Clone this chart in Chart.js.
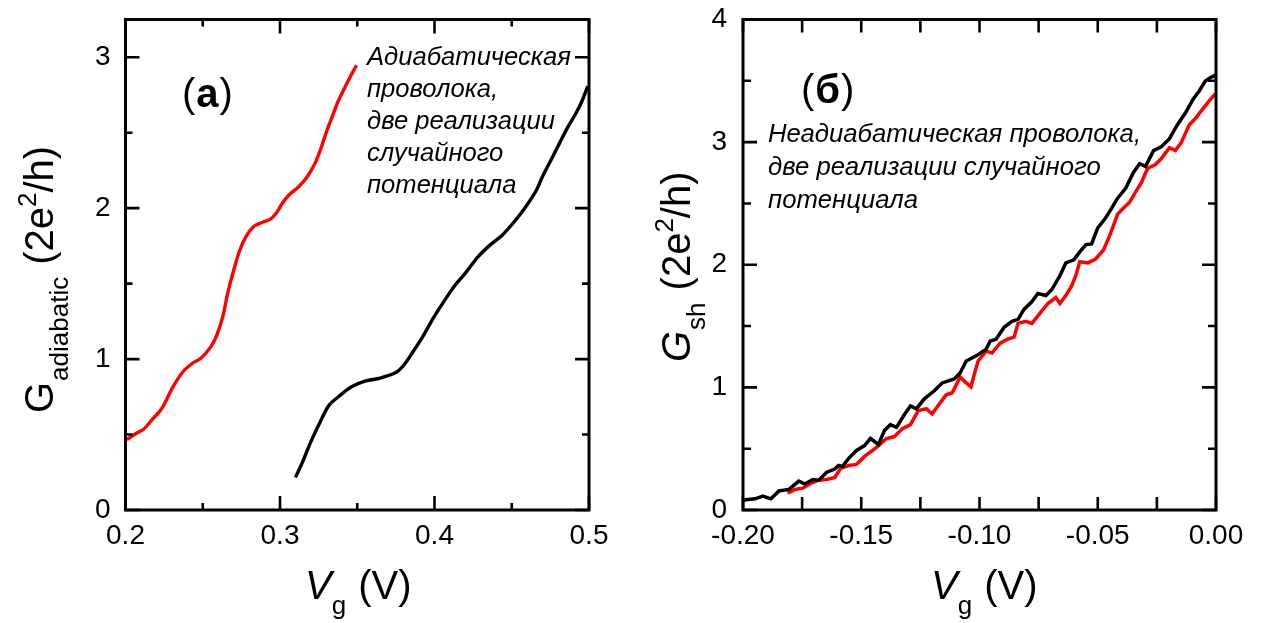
<!DOCTYPE html>
<html>
<head>
<meta charset="utf-8">
<script src="https://cdn.jsdelivr.net/npm/chart.js@4/dist/chart.umd.min.js"></script>
<style>
  html, body { margin: 0; padding: 0; background: #fff; }
  #wrap { position: relative; width: 1264px; height: 623px; overflow: hidden; }
  canvas { position: absolute; top: 0; }
  #panelA { left: 0; }
  #panelB { left: 632px; }
</style>
</head>
<body>
<div id="wrap">
  <canvas id="panelA" width="632" height="623" style="width:632px;height:623px"></canvas>
  <canvas id="panelB" width="632" height="623" style="width:632px;height:623px"></canvas>
</div>
<script>
// ---- Panel (a): adiabatic wire, two realisations of the random potential ----
const adiabRedVg = [0.2008,0.2066,0.2119,0.2171,0.2237,0.2303,0.2369,0.2435,0.2488,0.2554,0.2593,0.2633,0.2659,0.2699,0.2738,0.2778,0.2830,0.2883,0.2936,0.2975,0.3015,0.3055,0.3121,0.3173,0.3226,0.3266,0.3305,0.3345,0.3371,0.3411,0.3450,0.3495];
const adiabRedG  = [0.466,0.505,0.537,0.597,0.676,0.808,0.913,0.974,1.005,1.084,1.163,1.295,1.426,1.584,1.716,1.808,1.879,1.905,1.926,1.966,2.032,2.084,2.142,2.203,2.295,2.400,2.518,2.624,2.695,2.782,2.861,2.947];
const adiabBlackVg = [0.3100,0.3147,0.3200,0.3266,0.3318,0.3384,0.3463,0.3555,0.3648,0.3753,0.3806,0.3859,0.3925,0.3990,0.4056,0.4135,0.4201,0.4280,0.4359,0.4438,0.4504,0.4570,0.4623,0.4662,0.4702,0.4755,0.4807,0.4860,0.4913,0.4952,0.4992];
const adiabBlackG  = [0.216,0.321,0.453,0.597,0.695,0.755,0.816,0.855,0.874,0.913,0.966,1.045,1.150,1.268,1.374,1.492,1.571,1.676,1.755,1.821,1.895,1.979,2.058,2.124,2.216,2.321,2.426,2.532,2.624,2.703,2.808];
const adiabXTicks = [0.2, 0.3, 0.4, 0.5];
const adiabXMinor = [0.25, 0.35, 0.45];
const adiabYTicks = [0, 1, 2, 3];
const adiabYMinor = [0.5, 1.5, 2.5];

// ---- Panel (б): non-adiabatic wire ----
const shBlackVg = [-0.1997,-0.1949,-0.1916,-0.1882,-0.1848,-0.1806,-0.1764,-0.1739,-0.1705,-0.1680,-0.1646,-0.1612,-0.1596,-0.1579,-0.1553,-0.1520,-0.1486,-0.1461,-0.1427,-0.1402,-0.1377,-0.1351,-0.1318,-0.1292,-0.1267,-0.1233,-0.1191,-0.1158,-0.1107,-0.1082,-0.1056,-0.1014,-0.0972,-0.0955,-0.0930,-0.0896,-0.0863,-0.0837,-0.0812,-0.0778,-0.0753,-0.0719,-0.0694,-0.0660,-0.0635,-0.0601,-0.0576,-0.0550,-0.0526,-0.0500,-0.0467,-0.0441,-0.0416,-0.0382,-0.0349,-0.0323,-0.0298,-0.0264,-0.0230,-0.0197,-0.0163,-0.0129,-0.0096,-0.0071,-0.0045,-0.0020,0.0000];
const shBlackG  = [0.081,0.091,0.113,0.091,0.155,0.168,0.236,0.211,0.249,0.243,0.308,0.334,0.363,0.356,0.421,0.486,0.525,0.583,0.534,0.648,0.696,0.674,0.777,0.849,0.826,0.907,0.972,1.036,1.069,1.117,1.215,1.257,1.312,1.377,1.393,1.490,1.538,1.555,1.636,1.700,1.765,1.749,1.798,1.911,2.015,2.040,2.105,2.164,2.170,2.300,2.381,2.462,2.543,2.623,2.753,2.824,2.802,2.931,2.964,3.028,3.142,3.239,3.352,3.417,3.498,3.530,3.547];
const shRedVg = [-0.1811,-0.1781,-0.1747,-0.1714,-0.1680,-0.1646,-0.1612,-0.1587,-0.1553,-0.1520,-0.1486,-0.1452,-0.1427,-0.1393,-0.1360,-0.1326,-0.1292,-0.1259,-0.1225,-0.1200,-0.1166,-0.1141,-0.1115,-0.1082,-0.1060,-0.1036,-0.1023,-0.1006,-0.0972,-0.0947,-0.0913,-0.0880,-0.0854,-0.0837,-0.0804,-0.0778,-0.0745,-0.0711,-0.0677,-0.0660,-0.0635,-0.0610,-0.0593,-0.0576,-0.0542,-0.0509,-0.0475,-0.0450,-0.0416,-0.0391,-0.0365,-0.0341,-0.0315,-0.0290,-0.0256,-0.0231,-0.0197,-0.0172,-0.0147,-0.0113,-0.0088,-0.0062,-0.0029,-0.0003];
const shRedG  = [0.136,0.168,0.178,0.217,0.243,0.249,0.266,0.340,0.363,0.372,0.437,0.486,0.525,0.583,0.599,0.664,0.696,0.810,0.826,0.784,0.875,0.939,0.956,1.085,1.043,1.004,1.101,1.215,1.296,1.280,1.360,1.393,1.409,1.522,1.538,1.522,1.603,1.684,1.733,1.684,1.749,1.830,1.911,2.024,2.015,2.047,2.122,2.235,2.413,2.462,2.510,2.591,2.672,2.785,2.818,2.866,2.954,2.931,2.996,3.142,3.190,3.255,3.336,3.394];
const shXTicks = [-0.2, -0.15, -0.1, -0.05, 0];
const shXMinor = [-0.175, -0.125, -0.075, -0.025];
const shYTicks = [0, 1, 2, 3, 4];
const shYMinor = [0.5, 1.5, 2.5, 3.5];

const FONT = "'Liberation Sans', Arial, Helvetica, sans-serif";

function pairs(xs, ys) { return xs.map((v, i) => ({ x: v, y: ys[i] })); }

// Closed frame with inward-pointing ticks on all four sides
function frameTicks(o) {
  return {
    id: 'frameTicks',
    afterDatasetsDraw(chart) {
      const { ctx, chartArea: a, scales: { x, y } } = chart;
      ctx.save();
      ctx.strokeStyle = '#000';
      ctx.lineWidth = 2.6;
      ctx.beginPath();
      const xt = (vals, len) => vals.forEach(v => {
        const p = x.getPixelForValue(v);
        ctx.moveTo(p, a.bottom); ctx.lineTo(p, a.bottom - len);
        ctx.moveTo(p, a.top); ctx.lineTo(p, a.top + len);
      });
      const yt = (vals, len) => vals.forEach(v => {
        const p = y.getPixelForValue(v);
        ctx.moveTo(a.left, p); ctx.lineTo(a.left + len, p);
        ctx.moveTo(a.right, p); ctx.lineTo(a.right - len, p);
      });
      xt(o.xMajor, o.xMajorLen); xt(o.xMinor, o.xMinorLen);
      yt(o.yMajor, o.yMajorLen); yt(o.yMinor, o.yMinorLen);
      ctx.stroke();
      ctx.lineWidth = 3;
      ctx.strokeRect(a.left, a.top, a.right - a.left, a.bottom - a.top);
      ctx.restore();
    }
  };
}

// Axis titles and in-plot captions
function labels(o) {
  return {
    id: 'labels',
    afterDraw(chart) {
      const ctx = chart.ctx;
      ctx.save();
      ctx.fillStyle = '#000';
      ctx.textBaseline = 'alphabetic';
      ctx.textAlign = 'left';

      // x title: V_g (V)
      let cx = o.xTitle.x;
      const by = o.xTitle.y;
      ctx.font = 'italic 40px ' + FONT;
      ctx.fillText('V', cx, by); cx += ctx.measureText('V').width;
      ctx.font = '26px ' + FONT;
      ctx.fillText('g', cx, by + 15); cx += ctx.measureText('g').width + 12;
      ctx.font = '40px ' + FONT;
      ctx.fillText('(V)', cx, by);

      // y title, rotated: G_sub (2e^2/h)
      ctx.save();
      ctx.translate(o.yTitle.x, o.yTitle.y);
      ctx.rotate(-Math.PI / 2);
      let t = 0;
      ctx.font = (o.yTitle.italicG ? 'italic ' : '') + '40px ' + FONT;
      ctx.fillText('G', t, 0); t += ctx.measureText('G').width + 1;
      ctx.font = '26px ' + FONT;
      ctx.fillText(o.yTitle.sub, t, 15); t += ctx.measureText(o.yTitle.sub).width + o.yTitle.gap;
      ctx.font = '40px ' + FONT;
      ctx.fillText('(2e', t, 0); t += ctx.measureText('(2e').width;
      ctx.font = '26px ' + FONT;
      ctx.fillText('2', t, -17); t += ctx.measureText('2').width;
      ctx.font = '40px ' + FONT;
      ctx.fillText('/h)', t, 0);
      ctx.restore();

      // panel letter
      let px = o.tag.x;
      ctx.font = '40px ' + FONT;
      ctx.fillText('(', px, o.tag.y); px += ctx.measureText('(').width + 1;
      ctx.font = 'bold 40px ' + FONT;
      ctx.fillText(o.tag.letter, px, o.tag.y); px += ctx.measureText(o.tag.letter).width + 1;
      ctx.font = '40px ' + FONT;
      ctx.fillText(')', px, o.tag.y);

      // caption
      ctx.font = 'italic ' + o.note.size + 'px ' + FONT;
      o.note.lines.forEach((s, i) => ctx.fillText(s, o.note.x, o.note.y + i * o.note.step));
      ctx.restore();
    }
  };
}

// scales should not reserve extra room for half-labels at their ends
const noEndPadding = s => { s.paddingTop = 0; s.paddingBottom = 0; s.paddingLeft = 0; s.paddingRight = 0; };

function makeChart(id, cfg) {
  const chart = new Chart(document.getElementById(id), {
    type: 'line',
    data: { datasets: cfg.datasets },
    options: {
      responsive: false,
      animation: false,
      devicePixelRatio: 1,
      events: [],
      layout: { padding: Object.assign({}, cfg.area.padding) },
      plugins: { legend: { display: false }, tooltip: { enabled: false } },
      elements: { point: { radius: 0 } },
      scales: {
        x: {
          type: 'linear', min: cfg.xMin, max: cfg.xMax,
          grid: { display: false, drawTicks: false },
          border: { display: false },
          afterBuildTicks: s => { s.ticks = cfg.xTicks.map(v => ({ value: v })); },
          afterFit: noEndPadding,
          ticks: { font: { family: FONT, size: 28 }, color: '#000', padding: 9, maxRotation: 0, autoSkip: false,
                   callback: v => v.toFixed(cfg.xDigits) }
        },
        y: {
          type: 'linear', min: cfg.yMin, max: cfg.yMax,
          grid: { display: false, drawTicks: false },
          border: { display: false },
          afterBuildTicks: s => { s.ticks = cfg.yTicks.map(v => ({ value: v })); },
          afterFit: noEndPadding,
          ticks: { font: { family: FONT, size: 28 }, color: '#000', padding: cfg.yPad, autoSkip: false,
                   callback: v => String(Math.round(v)) }
        }
      }
    },
    plugins: [cfg.frame, cfg.labels]
  });
  // nudge the layout padding until the plot area sits on the wanted box
  const want = cfg.area.box;
  for (let i = 0; i < 4; i++) {
    const a = chart.chartArea, p = chart.options.layout.padding;
    const dt = want.top - a.top, db = a.bottom - want.bottom;
    const dl = want.left - a.left, dr = a.right - want.right;
    if (Math.abs(dt) + Math.abs(db) + Math.abs(dl) + Math.abs(dr) < 0.2) break;
    p.top += dt; p.bottom += db; p.left += dl; p.right += dr;
    chart.update();
  }
  return chart;
}

makeChart('panelA', {
  datasets: [
    { data: pairs(adiabRedVg, adiabRedG), borderColor: '#ff0000', borderWidth: 3.4, tension: 0.3, fill: false },
    { data: pairs(adiabBlackVg, adiabBlackG), borderColor: '#000', borderWidth: 3.4, tension: 0.3, fill: false }
  ],
  area: { padding: { top: 19.5, right: 43, left: 0, bottom: 0 },
          box: { left: 125.5, right: 589, top: 19.5, bottom: 510 } },
  xMin: 0.2, xMax: 0.5, yMin: 0, yMax: 3.25,
  xTicks: adiabXTicks, yTicks: adiabYTicks, xDigits: 1, yPad: 15,
  frame: frameTicks({ xMajor: adiabXTicks, xMinor: adiabXMinor, yMajor: adiabYTicks, yMinor: adiabYMinor,
                      xMajorLen: 14, xMinorLen: 7, yMajorLen: 14, yMinorLen: 7 }),
  labels: labels({
    xTitle: { x: 305, y: 599 },
    yTitle: { x: 53, y: 413, sub: 'adiabatic', gap: 12, italicG: false },
    tag: { x: 182, y: 107, letter: 'a' },
    note: { x: 367, y: 65, step: 32, size: 25.6,
            lines: ['Адиабатическая', 'проволока,', 'две реализации', 'случайного', 'потенциала'] }
  })
});

makeChart('panelB', {
  datasets: [
    { data: pairs(shBlackVg, shBlackG), borderColor: '#000', borderWidth: 3.5, tension: 0, fill: false },
    { data: pairs(shRedVg, shRedG), borderColor: '#ff0000', borderWidth: 3.5, tension: 0, fill: false }
  ],
  area: { padding: { top: 19.5, right: 48, left: 0, bottom: 0 },
          box: { left: 111, right: 584, top: 19.5, bottom: 510 } },
  xMin: -0.2, xMax: 0, yMin: 0, yMax: 4,
  xTicks: shXTicks, yTicks: shYTicks, xDigits: 2, yPad: 16,
  frame: frameTicks({ xMajor: shXTicks, xMinor: shXMinor, yMajor: shYTicks, yMinor: shYMinor,
                      xMajorLen: 13, xMinorLen: 13, yMajorLen: 14, yMinorLen: 8 }),
  labels: labels({
    xTitle: { x: 931 - 632, y: 599 },
    yTitle: { x: 690 - 632, y: 362, sub: 'sh', gap: 12, italicG: true },
    tag: { x: 801 - 632, y: 103, letter: 'б' },
    note: { x: 768 - 632, y: 142, step: 33, size: 25.7,
            lines: ['Неадиабатическая проволока,', 'две реализации случайного', 'потенциала'] }
  })
});
</script>
</body>
</html>
